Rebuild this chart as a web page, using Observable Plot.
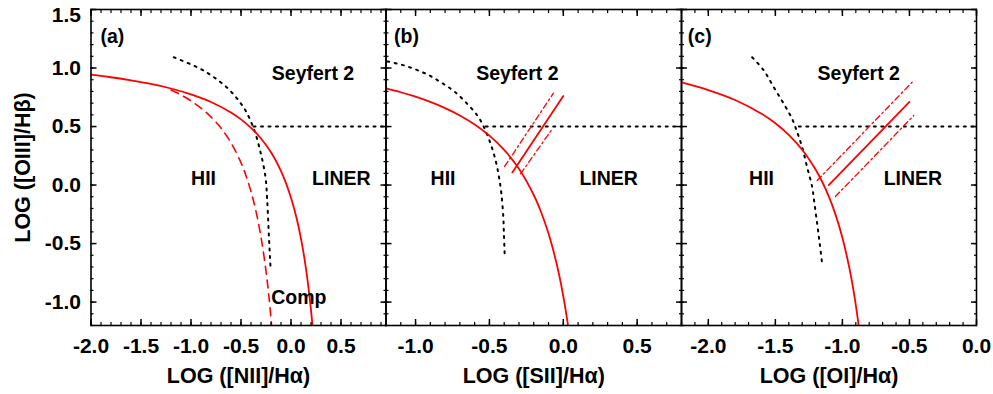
<!DOCTYPE html>
<html>
<head>
<meta charset="utf-8">
<script src="https://cdn.jsdelivr.net/npm/d3@7"></script>
<script src="https://cdn.jsdelivr.net/npm/@observablehq/plot@0.6"></script>
<style>
  html, body { margin: 0; padding: 0; background: #fff; }
  #chart { position: relative; width: 993px; height: 394px; }
  #chart svg { position: absolute; left: 0; top: 0; }
</style>
</head>
<body>
<div id="chart"></div>
<script>
// ---- (a) [NII]/Halpha ----
const kew01NiiX = [-2.0, -1.8, -1.6, -1.4, -1.2, -1.0, -0.8, -0.6, -0.5, -0.4, -0.3, -0.2, -0.1, -0.05, 0.0, 0.025, 0.05, 0.075, 0.1, 0.125, 0.15, 0.175, 0.2, 0.215];
const kew01NiiY = [0.943, 0.921, 0.895, 0.864, 0.825, 0.775, 0.710, 0.620, 0.561, 0.489, 0.398, 0.280, 0.120, 0.017, -0.108, -0.181, -0.262, -0.354, -0.459, -0.578, -0.716, -0.878, -1.069, -1.200];
const kau03X = [-1.2, -1.1, -1.0, -0.9, -0.8, -0.7, -0.6, -0.5, -0.45, -0.4, -0.35, -0.3, -0.25, -0.22, -0.194];
const kau03Y = [0.812, 0.770, 0.719, 0.658, 0.582, 0.487, 0.362, 0.191, 0.080, -0.056, -0.225, -0.443, -0.733, -0.959, -1.200];
const dotNiiX = [-1.172, -0.905, -0.772, -0.638, -0.538, -0.455, -0.372, -0.305, -0.255, -0.238, -0.222, -0.205];
const dotNiiY = [1.092, 0.993, 0.922, 0.831, 0.737, 0.637, 0.481, 0.281, 0.067, -0.132, -0.417, -0.702];
const seyNiiX = [-0.375, 0.95];

// ---- (b) [SII]/Halpha ----
const kew01SiiX = [-1.2, -1.1, -1.0, -0.9, -0.8, -0.7, -0.6, -0.5, -0.4, -0.3, -0.2, -0.15, -0.1, -0.05, -0.025, 0.0, 0.02, 0.032];
const kew01SiiY = [0.826, 0.793, 0.755, 0.710, 0.657, 0.594, 0.517, 0.422, 0.300, 0.139, -0.085, -0.232, -0.414, -0.646, -0.787, -0.950, -1.100, -1.200];
const dotSiiX = [-1.191, -1.100, -1.011, -0.920, -0.830, -0.740, -0.661, -0.582, -0.537, -0.492, -0.458, -0.435, -0.419, -0.406, -0.402, -0.397];
const dotSiiY = [1.056, 1.030, 0.993, 0.945, 0.879, 0.802, 0.708, 0.594, 0.494, 0.353, 0.210, 0.067, -0.075, -0.275, -0.416, -0.587];
const seySiiX = [-0.525, 0.8];
const kew06SiiX = [-0.345, 0.0],   kew06SiiY = [0.108, 0.760];
const kew06SiiUpX = [-0.397, -0.067], kew06SiiUpY = [0.159, 0.785];
const kew06SiiLoX = [-0.289, -0.074], kew06SiiLoY = [0.096, 0.481];

// ---- (c) [OI]/Halpha ----
const kew01OiX = [-2.2, -2.0, -1.8, -1.6, -1.5, -1.4, -1.3, -1.2, -1.15, -1.1, -1.05, -1.0, -0.95, -0.925, -0.9, -0.879];
const kew01OiY = [0.877, 0.812, 0.727, 0.607, 0.528, 0.429, 0.302, 0.133, 0.026, -0.101, -0.257, -0.450, -0.698, -0.849, -1.025, -1.196];
const dotOiX = [-1.673, -1.586, -1.512, -1.437, -1.375, -1.337, -1.300, -1.263, -1.225, -1.213, -1.188, -1.169, -1.151];
const dotOiY = [1.092, 0.979, 0.836, 0.694, 0.566, 0.451, 0.323, 0.152, -0.018, -0.118, -0.331, -0.502, -0.673];
const seyOiX = [-1.325, 0.0];
const kew06OiX = [-1.102, -0.500],   kew06OiY = [0.000, 0.710];
const kew06OiUpX = [-1.188, -0.480], kew06OiUpY = [0.039, 0.879];
const kew06OiLoX = [-1.052, -0.468], kew06OiLoY = [-0.098, 0.594];

const seyfertY = 0.5;

// ---- axes ----
const yTicks = [-1.0, -0.5, 0.0, 0.5, 1.0, 1.5];
const yTopTick = 1.5;
const xTicksA = [-2.0, -1.5, -1.0, -0.5, 0.0, 0.5];
const xTicksB = [-1.0, -0.5, 0.0, 0.5];
const xTicksC = [-2.0, -1.5, -1.0, -0.5, 0.0];
const yTitle = "LOG ([OIII]/Hβ)";
const xTitles = ["LOG ([NII]/Hα)", "LOG ([SII]/Hα)", "LOG ([OI]/Hα)"];

const W = 993, H = 394, TOP = 9, BOTTOM = 325;
const FONT = "'Liberation Sans', Arial, Helvetica, sans-serif";
const RED = "#ff0000";
const yDomain = [-1.2, 1.5];
const fmt = d => d.toFixed(1);
const TICK_FONT = "21px", TITLE_FONT = "21.5px", LABEL_FONT = "19.5px";

const solid = (x, y) => Plot.line(x, {x, y, stroke: RED, strokeWidth: 1.8, curve: "catmull-rom", clip: true});
const dashed = (x, y) => Plot.line(x, {x, y, stroke: RED, strokeWidth: 1.6, strokeDasharray: "8,6", curve: "catmull-rom", clip: true});
const dotted = (x, y) => Plot.line(x, {x, y, stroke: "black", strokeWidth: 2, strokeDasharray: "2,5.5", curve: "catmull-rom", clip: true});
const dashDot = (x, y) => Plot.line(x, {x, y, stroke: RED, strokeWidth: 1.3, strokeDasharray: "6,3,2,3"});
const label = (t, x, y, anchor = "middle") =>
  Plot.text([t], {x: [x], y: [y], textAnchor: anchor, lineAnchor: "middle", fontSize: LABEL_FONT, fontWeight: "bold", fill: "black"});

function panel({left, right, xDomain, xTicks, yLabels, xTitle, marks}) {
  const minorX = d3.range(Math.ceil(xDomain[0] * 10 - 1e-9), Math.floor(xDomain[1] * 10 + 1e-9) + 1).map(i => i / 10);
  const minorY = d3.range(-12, 16).map(i => i / 10);
  const blank = () => "";
  const axes = [
    Plot.axisX(minorX, {anchor: "bottom", tickSize: -3, tickFormat: blank, label: null, strokeWidth: 1.2}),
    Plot.axisX(minorX, {anchor: "top", tickSize: -3, tickFormat: blank, label: null, strokeWidth: 1.2}),
    Plot.axisX(xTicks, {anchor: "bottom", tickSize: -6, tickFormat: blank, label: null, strokeWidth: 1.5}),
    Plot.axisX(xTicks, {anchor: "top", tickSize: -6, tickFormat: blank, label: null, strokeWidth: 1.5}),
    Plot.axisX(xTicks, {anchor: "bottom", tickSize: 0, tickPadding: 13, tickFormat: fmt, label: null, fontSize: TICK_FONT, fontWeight: "bold"}),
    Plot.axisY(minorY, {anchor: "left", tickSize: -3, tickFormat: blank, label: null, strokeWidth: 1.2}),
    Plot.axisY(minorY, {anchor: "right", tickSize: -3, tickFormat: blank, label: null, strokeWidth: 1.2}),
    Plot.axisY(yTicks, {anchor: "left", tickSize: -6, tickFormat: blank, label: null, strokeWidth: 1.5}),
    Plot.axisY(yTicks, {anchor: "right", tickSize: -6, tickFormat: blank, label: null, strokeWidth: 1.5}),
  ];
  if (yLabels) {
    // the top label sits a little lower so it stays inside the figure
    axes.push(Plot.axisY(yTicks.filter(d => d !== yTopTick), {anchor: "left", tickSize: 0, tickPadding: 10, tickFormat: fmt, label: null, fontSize: TICK_FONT, fontWeight: "bold"}));
    axes.push(Plot.axisY([yTopTick], {anchor: "left", tickSize: 0, tickPadding: 10, tickFormat: fmt, label: null, fontSize: TICK_FONT, fontWeight: "bold", dy: 6}));
    axes.push(Plot.text([yTitle], {frameAnchor: "left", dx: -68, rotate: -90, textAnchor: "middle", lineAnchor: "middle", fontSize: TITLE_FONT, fontWeight: "bold"}));
  }
  axes.push(Plot.text([xTitle], {frameAnchor: "bottom", dy: 51, textAnchor: "middle", lineAnchor: "middle", fontSize: TITLE_FONT, fontWeight: "bold"}));
  return Plot.plot({
    width: W, height: H,
    marginLeft: left, marginRight: W - right, marginTop: TOP, marginBottom: H - BOTTOM,
    x: {domain: xDomain},
    y: {domain: yDomain},
    style: {background: "transparent", overflow: "visible", fontFamily: FONT, fontSize: "20px", fontWeight: "bold", color: "black"},
    marks: [
      ...marks,
      Plot.frame({stroke: "black", strokeWidth: 1.6}),
      ...axes
    ]
  });
}

const chart = document.getElementById("chart");

chart.append(panel({
  left: 90.5, right: 385.5, xDomain: [-2.0, 0.95], xTicks: xTicksA, yLabels: true, xTitle: xTitles[0],
  marks: [
    dotted(dotNiiX, dotNiiY),
    dotted(seyNiiX, seyNiiX.map(() => seyfertY)),
    dashed(kau03X, kau03Y),
    solid(kew01NiiX, kew01NiiY),
    label("(a)", -1.905, 1.27, "start"),
    label("Seyfert 2", 0.22, 0.95),
    label("HII", -0.875, 0.056),
    label("LINER", 0.503, 0.056),
    label("Comp", 0.078, -0.965)
  ]
}));

chart.append(panel({
  left: 385.5, right: 681, xDomain: [-1.2, 0.8], xTicks: xTicksB, yLabels: false, xTitle: xTitles[1],
  marks: [
    dotted(dotSiiX, dotSiiY),
    dotted(seySiiX, seySiiX.map(() => seyfertY)),
    solid(kew01SiiX, kew01SiiY),
    solid(kew06SiiX, kew06SiiY),
    dashDot(kew06SiiUpX, kew06SiiUpY),
    dashDot(kew06SiiLoX, kew06SiiLoY),
    label("(b)", -1.146, 1.27, "start"),
    label("Seyfert 2", -0.311, 0.95),
    label("HII", -0.814, 0.056),
    label("LINER", 0.307, 0.056)
  ]
}));

chart.append(panel({
  left: 681, right: 976, xDomain: [-2.2, 0.0], xTicks: xTicksC, yLabels: false, xTitle: xTitles[2],
  marks: [
    dotted(dotOiX, dotOiY),
    dotted(seyOiX, seyOiX.map(() => seyfertY)),
    solid(kew01OiX, kew01OiY),
    solid(kew06OiX, kew06OiY),
    dashDot(kew06OiUpX, kew06OiUpY),
    dashDot(kew06OiLoX, kew06OiLoY),
    label("(c)", -2.153, 1.27, "start"),
    label("Seyfert 2", -0.878, 0.95),
    label("HII", -1.603, 0.056),
    label("LINER", -0.474, 0.056)
  ]
}));
</script>
</body>
</html>
